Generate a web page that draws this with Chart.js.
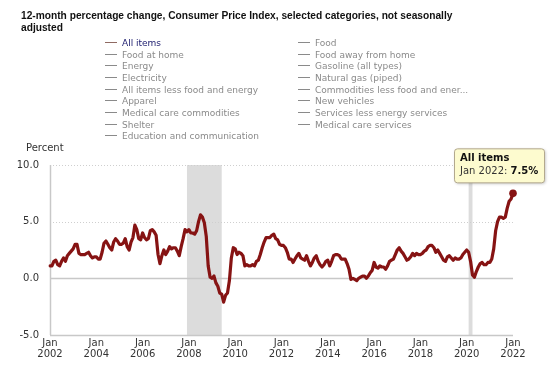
<!DOCTYPE html>
<html>
<head>
<meta charset="utf-8">
<script src="https://cdn.jsdelivr.net/npm/chart.js@4.4.1/dist/chart.umd.min.js"></script>
<style>
  html,body{margin:0;padding:0;background:#fff;}
  #wrap{position:relative;width:550px;height:368px;overflow:hidden;}
  #c{position:absolute;left:0;top:0;}
  #title{position:absolute;left:21px;top:10px;width:460px;font:bold 10.2px "Liberation Sans",Arial,sans-serif;line-height:12px;color:#111;}
  #legend{position:absolute;left:105px;top:37px;width:440px;font:9px "DejaVu Sans",Verdana,sans-serif;color:#8a8a8a;}
  .li{position:absolute;height:12px;line-height:12px;white-space:nowrap;}
  .li span.d{display:inline-block;width:12px;height:1px;background:#8a8a8a;vertical-align:middle;margin-right:5px;position:relative;top:-1px;}
  #ylab{position:absolute;left:26px;top:142px;font:10px "DejaVu Sans",Verdana,sans-serif;color:#333;}
</style>
</head>
<body>
<div id="wrap">
  <canvas id="c" width="550" height="368"></canvas>
  <div id="title">12-month percentage change, Consumer Price Index, selected categories, not seasonally adjusted</div>
  <div id="legend"></div>
  <div id="ylab">Percent</div>
</div>
<script>
// ---- data ----
const seriesNames = ["All items","Food","Food at home","Food away from home","Energy","Gasoline (all types)","Electricity","Natural gas (piped)","All items less food and energy","Commodities less food and ener...","Apparel","New vehicles","Medical care commodities","Services less energy services","Shelter","Medical care services","Education and communication"];
const monthNames = ["Jan","Feb","Mar","Apr","May","Jun","Jul","Aug","Sep","Oct","Nov","Dec"];
const startYear = 2002;
const allItems = [
  1.1,1.1,1.5,1.6,1.2,1.1,1.5,1.8,1.5,2.0,2.2,2.4,
  2.6,3.0,3.0,2.2,2.1,2.1,2.1,2.2,2.3,2.0,1.8,1.9,
  1.9,1.7,1.7,2.3,3.1,3.3,3.0,2.7,2.5,3.2,3.5,3.3,
  3.0,3.0,3.1,3.5,2.8,2.5,3.2,3.6,4.7,4.3,3.5,3.4,
  4.0,3.6,3.4,3.5,4.2,4.3,4.1,3.8,2.1,1.3,2.0,2.5,
  2.1,2.4,2.8,2.6,2.7,2.7,2.4,2.0,2.8,3.5,4.3,4.1,
  4.3,4.0,4.0,3.9,4.2,5.0,5.6,5.4,4.9,3.7,1.1,0.1,
  0.0,0.2,-0.4,-0.7,-1.3,-1.4,-2.1,-1.5,-1.3,-0.2,1.8,2.7,
  2.6,2.1,2.3,2.2,2.0,1.1,1.2,1.1,1.1,1.2,1.1,1.5,
  1.6,2.1,2.7,3.2,3.6,3.6,3.6,3.8,3.9,3.5,3.4,3.0,
  2.9,2.9,2.7,2.3,1.7,1.7,1.4,1.7,2.0,2.2,1.8,1.7,
  1.6,2.0,1.5,1.1,1.4,1.8,2.0,1.5,1.2,1.0,1.2,1.5,
  1.6,1.1,1.5,2.0,2.1,2.1,2.0,1.7,1.7,1.7,1.3,0.8,
  -0.1,0.0,-0.1,-0.2,0.0,0.1,0.2,0.2,0.0,0.2,0.5,0.7,
  1.4,1.0,0.9,1.1,1.0,1.0,0.8,1.1,1.5,1.6,1.7,2.1,
  2.5,2.7,2.4,2.2,1.9,1.6,1.7,1.9,2.2,2.0,2.2,2.1,
  2.1,2.2,2.4,2.5,2.8,2.9,2.9,2.7,2.3,2.5,2.2,1.9,
  1.6,1.5,1.9,2.0,1.8,1.6,1.8,1.7,1.7,1.8,2.1,2.3,
  2.5,2.3,1.5,0.3,0.1,0.6,1.0,1.3,1.4,1.2,1.2,1.4,
  1.4,1.7,2.6,4.2,5.0,5.4,5.4,5.3,5.4,6.2,6.8,7.0,
  7.5
];
const yTicks = [-5, 0, 5, 10];
const xTickYears = [2002,2004,2006,2008,2010,2012,2014,2016,2018,2020,2022];
// recessions as [start label, end label]
const recessions = [["Dec 2007","Jun 2009"],["Feb 2020","Apr 2020"]];

// categories
const categories = allItems.map((v,i)=> monthNames[i%12] + " " + (startYear + Math.floor(i/12)));

// ---- legend (HTML) ----
const legend = document.getElementById('legend');
seriesNames.forEach((n,i)=>{
  const d = document.createElement('div');
  d.className='li';
  d.style.left = (i%2===0 ? 0 : 193) + 'px';
  d.style.top = Math.round(Math.floor(i/2)*11.65) + 'px';
  d.innerHTML = '<span class="d"></span>' + n;
  if(i===0){ d.style.color='#1c1c6e'; d.querySelector('.d').style.background='#8f6a62'; }
  legend.appendChild(d);
});

const LINE = '#861313';

const bgPlugin = {
  id:'bg',
  beforeDatasetsDraw(chart){
    const {ctx, chartArea:a, scales:{x,y}} = chart;
    ctx.save();
    // recession shading
    ctx.fillStyle = '#dcdcdc';
    recessions.forEach(([s,e])=>{
      const x1 = x.getPixelForValue(categories.indexOf(s));
      const x2 = x.getPixelForValue(categories.indexOf(e));
      ctx.fillRect(x1, a.top, x2-x1, a.bottom-a.top);
    });
    // grid lines
    yTicks.forEach(v=>{
      const py = Math.round(y.getPixelForValue(v))+0.5;
      ctx.beginPath();
      if(v>0){ ctx.setLineDash([1,2]); ctx.strokeStyle='#cfcfcf'; ctx.lineWidth=1; }
      else { ctx.setLineDash([]); ctx.strokeStyle='#c8c8c8'; ctx.lineWidth=1.5; }
      ctx.moveTo(a.left, py); ctx.lineTo(a.right, py); ctx.stroke();
    });
    // left axis line
    ctx.setLineDash([]);
    ctx.strokeStyle='#c8c8c8'; ctx.lineWidth=1.5;
    ctx.beginPath(); ctx.moveTo(a.left+0.5, a.top); ctx.lineTo(a.left+0.5, a.bottom); ctx.stroke();
    ctx.restore();
  }
};

const tipPlugin = {
  id:'tip',
  afterDatasetsDraw(chart){
    const {ctx, scales:{x,y}} = chart;
    const i = allItems.length-1;
    const px = x.getPixelForValue(i), py = y.getPixelForValue(allItems[i]);
    // marker
    ctx.save();
    ctx.fillStyle = LINE;
    ctx.beginPath(); ctx.arc(px, py, 3.8, 0, Math.PI*2); ctx.fill();
    // tooltip box
    const bx = px - 59, by = py - 45, bw = 90, bh = 34;
    ctx.shadowColor='rgba(0,0,0,0.25)'; ctx.shadowBlur=3; ctx.shadowOffsetX=1; ctx.shadowOffsetY=1;
    ctx.fillStyle = '#fdfbcf';
    ctx.beginPath();
    ctx.roundRect(bx+0.5, by+0.5, bw, bh, 3);
    ctx.fill();
    ctx.shadowColor='transparent';
    ctx.strokeStyle='#b3a98e'; ctx.lineWidth=1; ctx.stroke();
    ctx.textBaseline='middle';
    ctx.fillStyle='#111';
    ctx.font='bold 10px "DejaVu Sans", Verdana, sans-serif';
    ctx.fillText(seriesNames[0], bx+6, by+10);
    ctx.font='10px "DejaVu Sans", Verdana, sans-serif';
    const pre = categories[i] + ': ';
    ctx.fillStyle='#333';
    ctx.fillText(pre, bx+6, by+23);
    const w = ctx.measureText(pre).width;
    ctx.font='bold 10px "DejaVu Sans", Verdana, sans-serif';
    ctx.fillStyle='#111';
    ctx.fillText(allItems[i].toFixed(1)+'%', bx+6+w, by+23);
    ctx.restore();
  }
};

new Chart(document.getElementById('c'), {
  type:'line',
  data:{ labels: categories, datasets:[{
    label: seriesNames[0], data: allItems, borderColor: LINE, borderWidth: 3.2,
    pointRadius: 0, tension: 0, fill:false, borderJoinStyle:'round', borderCapStyle:'round'
  }]},
  options:{
    responsive:false, animation:false, events:[],
    layout:{ padding:{ top:165, left:0, right:37, bottom:3 } },
    plugins:{ legend:{display:false}, tooltip:{enabled:false} },
    scales:{
      x:{
        type:'category',
        grid:{ display:false, drawTicks:false },
        border:{ display:false },
        afterFit(s){ s.height = 30; },
        ticks:{
          autoSkip:false, maxRotation:0, minRotation:0, padding:3,
          color:'#333', font:{ family:'"DejaVu Sans", Verdana, sans-serif', size:10, lineHeight:1.1 },
          callback(v, idx){
            const lab = categories[idx];
            const yr = +lab.split(' ')[1];
            return (lab.startsWith('Jan') && xTickYears.includes(yr)) ? ['Jan', String(yr)] : null;
          }
        }
      },
      y:{
        min:-5, max:10,
        afterBuildTicks(s){ s.ticks = yTicks.map(v=>({value:v})); },
        afterFit(s){ s.width = 50; },
        grid:{ display:false, drawTicks:false },
        border:{ display:false },
        ticks:{ padding:11, color:'#333', font:{ family:'"DejaVu Sans", Verdana, sans-serif', size:10 },
          callback(v){ return Number(v).toFixed(1); } }
      }
    }
  },
  plugins:[bgPlugin, tipPlugin]
});
</script>
</body>
</html>
